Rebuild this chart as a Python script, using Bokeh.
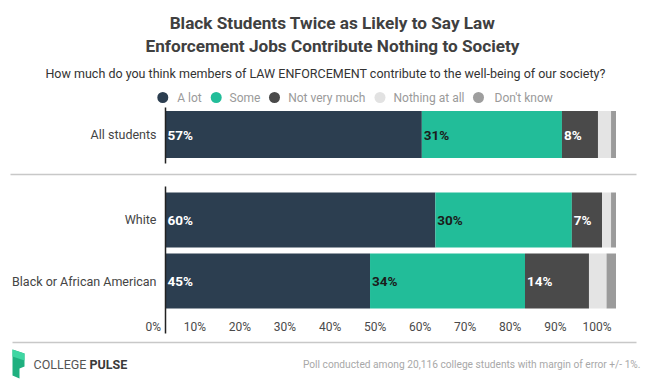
from bokeh.plotting import figure
from bokeh.models import Range1d, ColumnDataSource
from bokeh.core.properties import value
from bokeh.embed import file_html
from bokeh.resources import INLINE

# ---------------- data ----------------
groups = ["All students", "White", "Black or African American"]
responses = ["A lot", "Some", "Not very much", "Nothing at all", "Don't know"]
a_lot = [56.9, 59.9, 45.4]
some = [31.1, 30.3, 34.4]
not_very_much = [8.0, 6.7, 14.2]
nothing_at_all = [2.9, 2.0, 3.9]
dont_know = [1.1, 1.1, 2.1]
series = [a_lot, some, not_very_much, nothing_at_all, dont_know]
tick_values = [0, 10, 20, 30, 40, 50, 60, 70, 80, 90, 100]
tick_labels = ["0%", "10%", "20%", "30%", "40%", "50%", "60%", "70%", "80%", "90%", "100%"]

title_lines = ["Black Students Twice as Likely to Say Law",
               "Enforcement Jobs Contribute Nothing to Society"]
subtitle = "How much do you think members of LAW ENFORCEMENT contribute to the well-being of our society?"
footnote = "Poll conducted among 20,116 college students with margin of error +/- 1%."

# ---------------- styles / layout ----------------
colors = ["#2c3e50", "#22bd99", "#4a4a4a", "#e4e4e4", "#9b9b9b"]
legend_colors = ["#2c3e50", "#22bd99", "#4a4a4a", "#e2e2e2", "#9e9e9e"]
label_colors = ["#ffffff", "#1b1b1b", "#ffffff", "#ffffff", "#ffffff"]
FONT = value("Roboto")

W, H = 650, 386
AX0 = 165.0          # canvas x of 0 %
PX_PER = 4.505       # pixels per percent
row_y = [134.1, 219.4, 280.5]
row_h = [47, 55, 55]

p = figure(width=W, height=H, output_backend="svg", toolbar_location=None,
           x_range=Range1d(-AX0 / PX_PER, (W - AX0) / PX_PER),
           y_range=Range1d(H, 0),
           min_border=0, min_border_left=0, min_border_right=0,
           min_border_top=0, min_border_bottom=0)
p.extra_x_ranges = {"px": Range1d(0, W)}
p.axis.visible = False
p.grid.visible = False
p.outline_line_color = None
p.background_fill_color = "white"
p.border_fill_color = "white"

# ---------------- bars ----------------
left = [0.0] * len(groups)
for i, (resp, vals) in enumerate(zip(responses, series)):
    right = [l + v for l, v in zip(left, vals)]
    src = ColumnDataSource(dict(y=row_y, h=row_h, left=left, right=right))
    p.hbar(y="y", height="h", left="left", right="right", source=src,
           fill_color=colors[i], line_color=None)
    # value labels for the segments wide enough to hold them
    lx = [l for l, v in zip(left, vals) if v >= 5]
    ly = [y for y, v in zip(row_y, vals) if v >= 5]
    lt = [f"{round(v)}%" for v in vals if v >= 5]
    if lt:
        p.text(x=lx, y=ly, text=lt, x_offset=2, text_align="left",
               text_baseline="middle", text_font=FONT, text_font_size="13.5px",
               text_font_style="bold", text_color=label_colors[i])
    left = right

# category labels
p.text(x=[0] * len(groups), y=row_y, text=groups, x_offset=-9,
       text_align="right", text_baseline="middle", text_font=FONT,
       text_font_size="12.5px", text_color="#444444")

# vertical axis line (broken between sections)
p.segment(x0=[0, 0], y0=[107, 186], x1=[0, 0], y1=[163, 333],
          line_color="#222222", line_width=1.5)

# x tick labels
p.text(x=tick_values, y=[326] * len(tick_values), text=tick_labels,
       x_offset=-4.5, text_align="right", text_baseline="middle",
       text_font=FONT, text_font_size="12px", text_color="#4a4a4a")

# separators
p.segment(x0=[10, 12], y0=[174, 342], x1=[636, 636], y1=[174, 342],
          line_color="#c8c8c8", line_width=1.5, x_range_name="px")

# ---------------- titles ----------------
p.text(x=[332, 332], y=[22, 45], text=title_lines, text_align="center",
       text_baseline="middle", text_font=FONT, text_font_size="17.2px",
       text_font_style="bold", text_color="#404040", x_range_name="px")
p.text(x=[325], y=[73], text=[subtitle], text_align="center",
       text_baseline="middle", text_font=FONT, text_font_size="12.5px",
       text_color="#333333", x_range_name="px")

# ---------------- legend ----------------
leg_cx = [162.3, 215.7, 274.0, 379.5, 478.0]
leg_tx = [176.7, 229.0, 287.7, 393.0, 494.0]
p.scatter(x=leg_cx, y=[97] * 5, size=11, marker="circle",
          fill_color=legend_colors, line_color=None, x_range_name="px")
p.text(x=leg_tx, y=[97] * 5, text=responses, text_align="left",
       text_baseline="middle", text_font=FONT, text_font_size="12px",
       text_color="#9a9a9a", x_range_name="px")

# ---------------- footer ----------------
p.patch(x=[12, 24, 24, 19, 19, 12], y=[349, 353, 366, 368, 378, 375],
        fill_color="#1fb07f", line_color=None, x_range_name="px")
p.patch(x=[12, 24, 24, 12], y=[349, 353, 360, 356],
        fill_color="#3fd6a2", line_color=None, x_range_name="px")
p.text(x=[33], y=[364], text=["COLLEGE"], text_align="left",
       text_baseline="middle", text_font=FONT, text_font_size="12.5px",
       text_color="#555555", x_range_name="px")
p.text(x=[89], y=[364], text=["PULSE"], text_align="left",
       text_baseline="middle", text_font=FONT, text_font_size="12.5px",
       text_font_style="bold", text_color="#3a3a3a", x_range_name="px")
p.text(x=[640], y=[364], text=[footnote], text_align="right",
       text_baseline="middle", text_font=FONT, text_font_size="10.2px",
       text_color="#a8a8a8", x_range_name="px")

open("out.html", "w").write(file_html(p, INLINE))
